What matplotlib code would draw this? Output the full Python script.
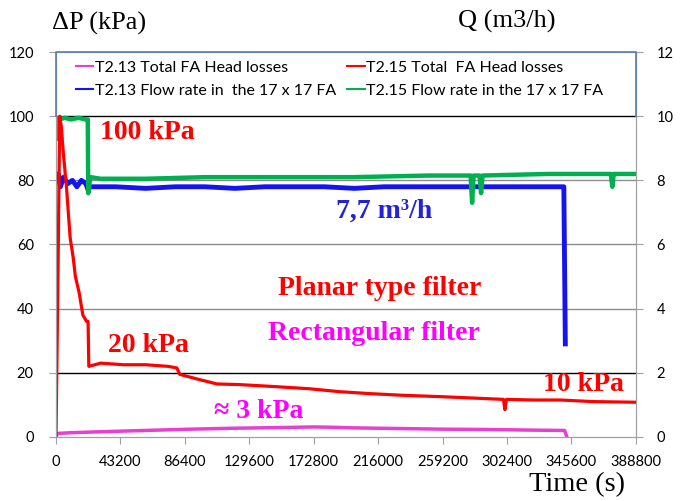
import numpy as np
import matplotlib.pyplot as plt

# Time axis (s)
x_ticks = np.arange(0, 388801, 43200)

# T2.13 total FA head losses (kPa)
t_p13 = [0, 700, 2000, 10000, 30000, 60000, 90000, 120000, 150000, 172800,
         185000, 200000, 230000, 260000, 290000, 320000, 341000, 342500]
dp_p13 = [0, 0.9, 1.1, 1.3, 1.6, 2.0, 2.4, 2.7, 2.9, 3.1,
          3.0, 2.8, 2.6, 2.4, 2.3, 2.1, 2.0, 0]

# T2.15 total FA head losses (kPa)
t_p15 = [0, 1300, 2500, 3500, 5000, 7000, 9500, 11500, 13000, 15500, 18000,
         20500, 21500, 22000, 30000, 45000, 60000, 75000, 81000, 83000, 95000,
         108000, 123000, 146000, 170000, 190000, 210000, 231000, 260000,
         285000, 300000, 301000, 302000, 320000, 338000, 360000, 388800]
dp_p15 = [0, 50, 100, 97, 88, 78, 62, 56, 50, 45, 38,
          36, 36, 22, 23, 22.5, 22.5, 22.0, 21.5, 19.5, 18,
          16.5, 16.3, 15.7, 15, 14.1, 13.5, 13, 12.5,
          12, 11.7, 8.5, 11.7, 11.5, 11.5, 11, 10.8]

# T2.13 flow rate (m3/h)
t_q13 = [0, 1500, 3000, 5000, 8000, 11000, 14000, 17000, 20000, 21500, 23000,
         40000, 60000, 80000, 100000, 120000, 140000, 160000, 180000, 200000,
         220000, 240000, 260000, 280000, 300000, 320000, 339000, 340500, 341500]
q_q13 = [8.0, 8.2, 7.8, 8.1, 7.9, 8.0, 7.8, 8.0, 7.9, 7.7, 7.8,
         7.8, 7.75, 7.8, 7.8, 7.75, 7.8, 7.8, 7.8, 7.75,
         7.8, 7.8, 7.8, 7.8, 7.8, 7.8, 7.8, 7.8, 2.9]

# T2.15 flow rate (m3/h)
t_q15 = [0, 400, 2000, 6000, 10000, 15000, 20000, 21300, 21600, 23000, 30000,
         60000, 100000, 150000, 200000, 250000, 278000, 279000, 280000, 284000,
         285000, 286000, 330000, 372000, 373000, 374000, 388800]
q_q15 = [9.3, 9.95, 9.9, 9.95, 9.9, 9.95, 9.9, 9.9, 7.6, 8.1, 8.05,
         8.05, 8.1, 8.1, 8.1, 8.15, 8.15, 7.3, 8.15, 8.15,
         7.6, 8.15, 8.2, 8.2, 7.8, 8.2, 8.2]

tick_font = 'Lato'
serif = 'Liberation Serif'

fig = plt.figure(figsize=(6.83, 5.01), dpi=100)
ax2 = fig.add_axes([0.082, 0.128, 0.849, 0.768])
ax1 = ax2.twinx()
# keep the pressure axis on the left
ax1.yaxis.tick_left()
ax2.yaxis.tick_right()
ax1.set_zorder(3)
ax1.patch.set_visible(False)

l_q13, = ax2.plot(t_q13, q_q13, color='#1414f0', lw=3.5,
                  label='T2.13 Flow rate in  the 17 x 17 FA')
l_q15, = ax2.plot(t_q15, q_q15, color='#00b050', lw=3.2,
                  label='T2.15 Flow rate in the 17 x 17 FA')
l_p13, = ax1.plot(t_p13, dp_p13, color='#e83fd2', lw=2.5,
                  label='T2.13 Total FA Head losses')
l_p15, = ax1.plot(t_p15, dp_p15, color='#ff0000', lw=2.3,
                  label='T2.15 Total  FA Head losses')

ax1.set_xlim(0, 388800)
ax1.set_ylim(0, 120)
ax2.set_ylim(0, 12)
ax1.set_yticks(np.arange(0, 121, 20))
ax2.set_yticks(np.arange(0, 13, 2))
ax2.set_xticks(x_ticks)
ax2.set_xticklabels([str(v) for v in x_ticks])

# gridlines
for g in [40, 60, 80]:
    ax2.axhline(g / 10, color='#8c8c8c', lw=1, zorder=0)
for g in [20, 100]:
    ax2.axhline(g / 10, color='black', lw=1, zorder=0)

for ax in (ax1, ax2):
    for s in ax.spines.values():
        s.set_color('#a0a0a0')
    ax.tick_params(direction='out', length=5, color='#a0a0a0',
                   labelsize=10.5, pad=8)
    for lab in ax.get_xticklabels() + ax.get_yticklabels():
        lab.set_fontfamily(tick_font)
ax1.tick_params(axis='y', pad=11)
ax2.tick_params(axis='y', pad=10)

# legend box across the top of the plot (bottom edge is the black 100 line)
ax1.plot([0, 0, 1, 1], [100 / 120, 1, 1, 100 / 120], transform=ax1.transAxes,
         color='#5a7fa8', lw=1.2, zorder=5, clip_on=False)
leg = ax1.legend(handles=[l_p13, l_q13, l_p15, l_q15], ncol=2,
                 loc='upper left', bbox_to_anchor=(0.034, 0.978),
                 frameon=False, handlelength=1.1, handletextpad=0.1,
                 columnspacing=0.7, borderaxespad=0, borderpad=0,
                 labelspacing=0.55, prop={'family': tick_font, 'size': 11.5})
for h in leg.get_lines():
    h.set_linewidth(1.5)

# axis titles
fig.text(52 / 683, 1 - 23 / 501, 'ΔP (kPa)', family=serif, fontsize=19,
         ha='left', va='center')
fig.text(458 / 683, 1 - 21 / 501, 'Q (m3/h)', family=serif, fontsize=19,
         ha='left', va='center')
fig.text(577 / 683, 1 - 485 / 501, 'Time (s)', family=serif, fontsize=20.5,
         ha='center', va='center')

# annotations
bold = dict(family=serif, fontsize=20, fontweight='bold', ha='center',
            va='center')
ax1.text(61000, 95, '100 kPa', color='#ff0000', **bold)
ax1.text(220000, 70.5, '7,7 m³/h', color='#2222dd', **bold)
ax1.text(217000, 46.2, 'Planar type filter', color='#ff0000', **bold)
ax1.text(213000, 32.3, 'Rectangular filter', color='#ff00ff', **bold)
ax1.text(62000, 28.5, '20 kPa', color='#ff0000', **bold)
ax1.text(353500, 16.2, '10 kPa', color='#ff0000', **bold)
ax1.text(135600, 7.8, '≈ 3 kPa', color='#ff00ff', **bold)

plt.savefig('out.png', dpi=100)
